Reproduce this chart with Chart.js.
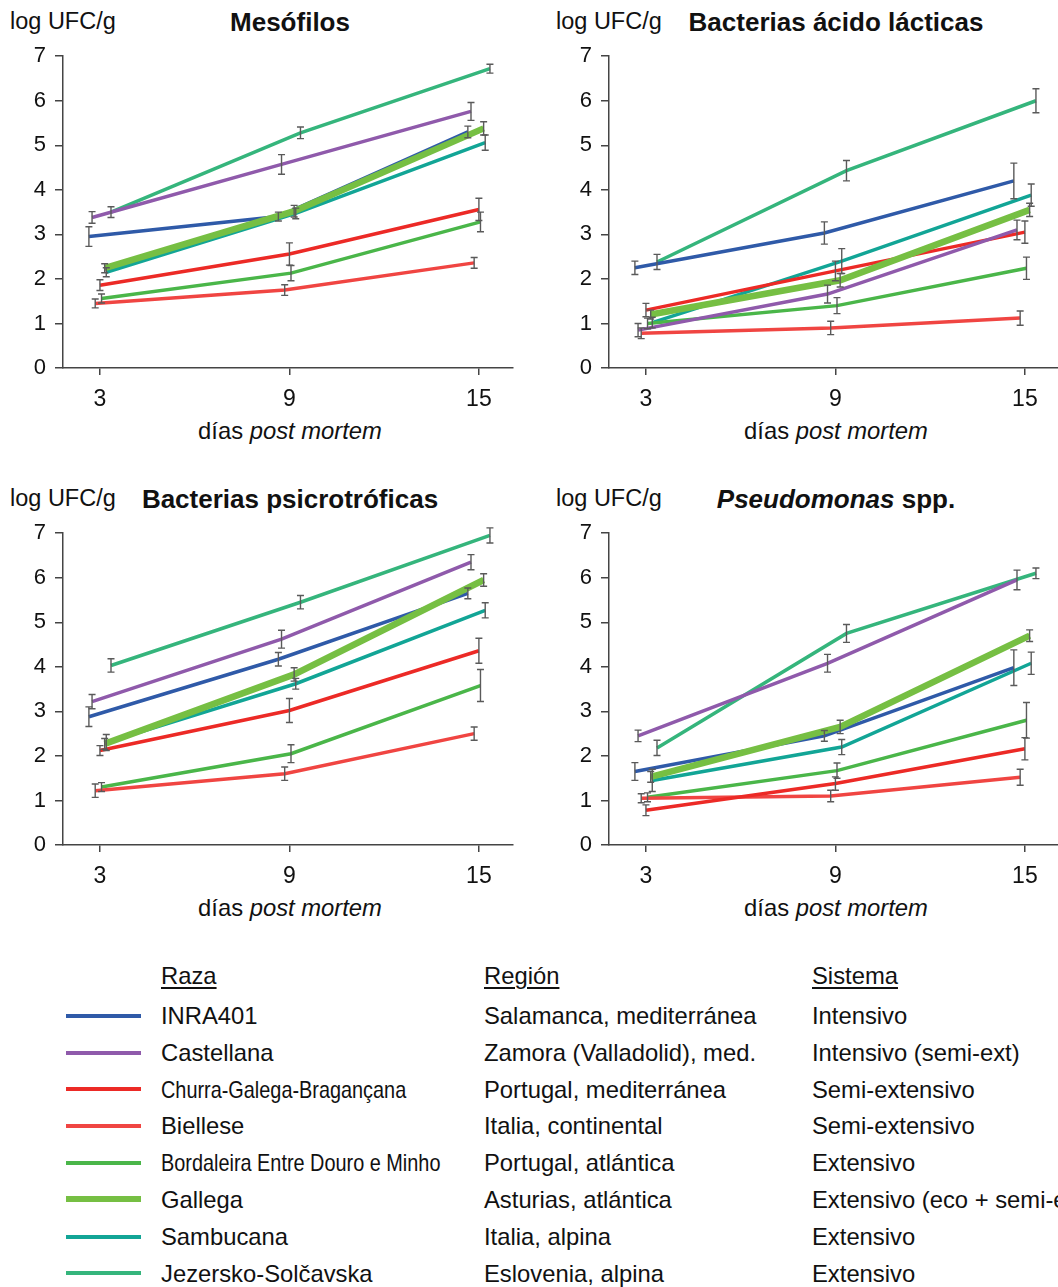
<!DOCTYPE html>
<html>
<head>
<meta charset="utf-8">
<script src="https://cdn.jsdelivr.net/npm/chart.js@4.4.1/dist/chart.umd.min.js"></script>
<style>
    body {
        margin: 0;
        width: 1058px;
        height: 1287px;
        overflow: hidden;
        background: #fff;
        position: relative;
        font-family: "Liberation Sans", Arial, sans-serif;
        color: #111;
    }
    .abs { position: absolute; white-space: nowrap; line-height: 1; }
    .ylab { font-size: 23.5px; }
    .title { font-size: 26px; font-weight: bold; transform: translateX(-50%); }
    .xlab { font-size: 23.8px; transform: translateX(-50%); }
    canvas { position: absolute; }
    .leg { font-size: 23.8px; }
    .narrow { display: inline-block; transform: scaleX(0.835); transform-origin: left center; }
    .swatch { position: absolute; left: 66px; width: 75px; }
    u { text-decoration-thickness: 1.5px; text-underline-offset: 3px; }
</style>
</head>
<body>

<script>
// ---- data ----
const days = [3, 9, 15];
const breeds = ['INRA401', 'Castellana', 'Churra-Galega-Bragançana', 'Biellese',
                'Bordaleira Entre Douro e Minho', 'Gallega', 'Sambucana', 'Jezersko-Solčavska'];
const regions = ['Salamanca, mediterránea', 'Zamora (Valladolid), med.', 'Portugal, mediterránea',
                 'Italia, continental', 'Portugal, atlántica', 'Asturias, atlántica',
                 'Italia, alpina', 'Eslovenia, alpina'];
const systems = ['Intensivo', 'Intensivo (semi-ext)', 'Semi-extensivo', 'Semi-extensivo',
                 'Extensivo', 'Extensivo (eco + semi-ext)', 'Extensivo', 'Extensivo'];
const colors = ['#2f5aa8', '#8f5aab', '#ec2a26', '#f04542', '#4ab649', '#76bf43', '#12a596', '#35b57c'];
const widths = [3.5, 3.5, 3.5, 3.5, 3.5, 6.5, 3.5, 3.5];
// small horizontal shift of each breed so the error bars don't overlap (in days)
const dodge = [-0.35, -0.25, 0.0, -0.15, 0.05, 0.15, 0.2, 0.35];

// log UFC/g, one row per breed (days 3, 9, 15)
const mesofilos = [
    [2.95, 3.40, 5.30], [3.38, 4.57, 5.76], [1.86, 2.56, 3.56], [1.45, 1.75, 2.36],
    [1.56, 2.13, 3.28], [2.24, 3.52, 5.38], [2.15, 3.47, 5.06], [3.50, 5.28, 6.72]
];
const mesofilosErr = [
    [0.22, 0.10, 0.13], [0.13, 0.22, 0.20], [0.12, 0.25, 0.25], [0.10, 0.12, 0.12],
    [0.10, 0.17, 0.22], [0.10, 0.13, 0.15], [0.10, 0.12, 0.17], [0.12, 0.13, 0.10]
];
const lacticas = [
    [2.25, 3.03, 4.20], [0.85, 1.66, 3.10], [1.30, 2.18, 3.05], [0.78, 0.90, 1.12],
    [1.00, 1.40, 2.24], [1.20, 1.97, 3.55], [1.02, 2.40, 3.88], [2.38, 4.43, 6.00]
];
const lacticasErr = [
    [0.15, 0.25, 0.40], [0.15, 0.20, 0.22], [0.15, 0.22, 0.25], [0.12, 0.15, 0.16],
    [0.12, 0.18, 0.25], [0.10, 0.15, 0.15], [0.12, 0.28, 0.25], [0.17, 0.23, 0.27]
];
const psicrotroficas = [
    [2.88, 4.17, 5.65], [3.22, 4.62, 6.35], [2.12, 3.02, 4.36], [1.22, 1.60, 2.50],
    [1.30, 2.05, 3.58], [2.27, 3.83, 5.95], [2.30, 3.62, 5.27], [4.03, 5.45, 6.95]
];
const psicrotroficasErr = [
    [0.22, 0.15, 0.12], [0.16, 0.20, 0.17], [0.11, 0.27, 0.28], [0.15, 0.15, 0.15],
    [0.10, 0.20, 0.36], [0.12, 0.15, 0.14], [0.18, 0.12, 0.17], [0.15, 0.15, 0.17]
];
const pseudomonas = [
    [1.65, 2.45, 3.98], [2.45, 4.08, 5.95], [0.78, 1.38, 2.16], [1.05, 1.10, 1.52],
    [1.07, 1.67, 2.80], [1.53, 2.65, 4.70], [1.45, 2.20, 4.08], [2.18, 4.75, 6.10]
];
const pseudomonasErr = [
    [0.20, 0.12, 0.40], [0.13, 0.20, 0.22], [0.12, 0.15, 0.25], [0.10, 0.13, 0.18],
    [0.10, 0.17, 0.40], [0.12, 0.15, 0.13], [0.25, 0.17, 0.25], [0.17, 0.20, 0.12]
];

const panels = [
    { left: 0,   top: 0,   title: 'Mesófilos', values: mesofilos, err: mesofilosErr },
    { left: 546, top: 0,   title: 'Bacterias ácido lácticas', values: lacticas, err: lacticasErr },
    { left: 0,   top: 477, title: 'Bacterias psicrotróficas', values: psicrotroficas, err: psicrotroficasErr },
    { left: 546, top: 477, title: '<i>Pseudomonas</i> spp.', values: pseudomonas, err: pseudomonasErr }
];

Chart.defaults.font.family = '"Liberation Sans", Arial, sans-serif';
Chart.defaults.color = '#111';

// draws mean +/- error whiskers using the chart scales
const errorBars = {
    id: 'errorBars',
    afterDatasetsDraw(chart) {
        const { ctx, scales: { x, y } } = chart;
        ctx.save();
        ctx.strokeStyle = '#5a5a5a';
        ctx.lineWidth = 1.4;
        chart.data.datasets.forEach(ds => {
            ds.data.forEach((p, i) => {
                const px = x.getPixelForValue(p.x);
                const hi = y.getPixelForValue(p.y + ds.err[i]);
                const lo = y.getPixelForValue(p.y - ds.err[i]);
                ctx.beginPath();
                ctx.moveTo(px, hi); ctx.lineTo(px, lo);
                ctx.moveTo(px - 3.5, hi); ctx.lineTo(px + 3.5, hi);
                ctx.moveTo(px - 3.5, lo); ctx.lineTo(px + 3.5, lo);
                ctx.stroke();
            });
        });
        ctx.restore();
    }
};

function addText(html, cls, x, y) {
    const d = document.createElement('div');
    d.className = 'abs ' + cls;
    d.innerHTML = html;
    d.style.left = x + 'px';
    d.style.top = y + 'px';
    document.body.appendChild(d);
    return d;
}

function buildPanel(p) {
    addText('log UFC/g', 'ylab', p.left + 10, p.top + 10);
    addText(p.title, 'title', p.left + 290, p.top + 9);
    addText('días <i>post mortem</i>', 'xlab', p.left + 290, p.top + 419);

    const canvas = document.createElement('canvas');
    canvas.width = 530;
    canvas.height = 381;
    canvas.style.left = p.left + 'px';
    canvas.style.top = (p.top + 34) + 'px';
    document.body.appendChild(canvas);

    const datasets = breeds.map((b, k) => ({
        label: b,
        data: days.map((d, i) => ({ x: d + dodge[k], y: p.values[k][i] })),
        err: p.err[k],
        borderColor: colors[k],
        borderWidth: widths[k],
        pointRadius: 0,
        tension: 0,
        order: k === 5 ? 0 : 1
    }));

    new Chart(canvas, {
        type: 'line',
        data: { datasets },
        options: {
            responsive: false,
            animation: false,
            events: [],
            layout: { padding: { top: 0, right: 17, left: 0, bottom: 0 } },
            plugins: { legend: { display: false }, tooltip: { enabled: false } },
            scales: {
                x: {
                    type: 'linear',
                    min: 1.83,
                    max: 16.08,
                    afterBuildTicks: axis => { axis.ticks = days.map(v => ({ value: v })); },
                    afterFit: axis => { axis.height = 47; },
                    border: { color: '#444', width: 1.5 },
                    grid: { drawOnChartArea: false, color: '#444', tickLength: 7, lineWidth: 1.5 },
                    ticks: { font: { size: 23 }, padding: 11 }
                },
                y: {
                    min: 0,
                    max: 7,
                    afterFit: axis => { axis.width = 63; },
                    border: { color: '#444', width: 1.5 },
                    grid: { drawOnChartArea: false, color: '#444', tickLength: 8, lineWidth: 1.5 },
                    ticks: { stepSize: 1, font: { size: 22 }, padding: 9 }
                }
            }
        },
        plugins: [errorBars]
    });
}

panels.forEach(buildPanel);

// legend table
addText('<u>Raza</u>', 'leg', 161, 964);
addText('<u>Región</u>', 'leg', 484, 964);
addText('<u>Sistema</u>', 'leg', 812, 964);
breeds.forEach((b, k) => {
    const y = 1016 + k * 36.8;
    const sw = document.createElement('div');
    sw.className = 'swatch';
    sw.style.top = (y - widths[k] / 2 - 0.5) + 'px';
    sw.style.height = (k === 5 ? 6 : 4) + 'px';
    sw.style.background = colors[k];
    document.body.appendChild(sw);
    const name = (k === 2 || k === 4) ? '<span class="narrow">' + b + '</span>' : b;
    addText(name, 'leg', 161, y - 12);
    addText(regions[k], 'leg', 484, y - 12);
    addText(systems[k], 'leg', 812, y - 12);
});
</script>
</body>
</html>
